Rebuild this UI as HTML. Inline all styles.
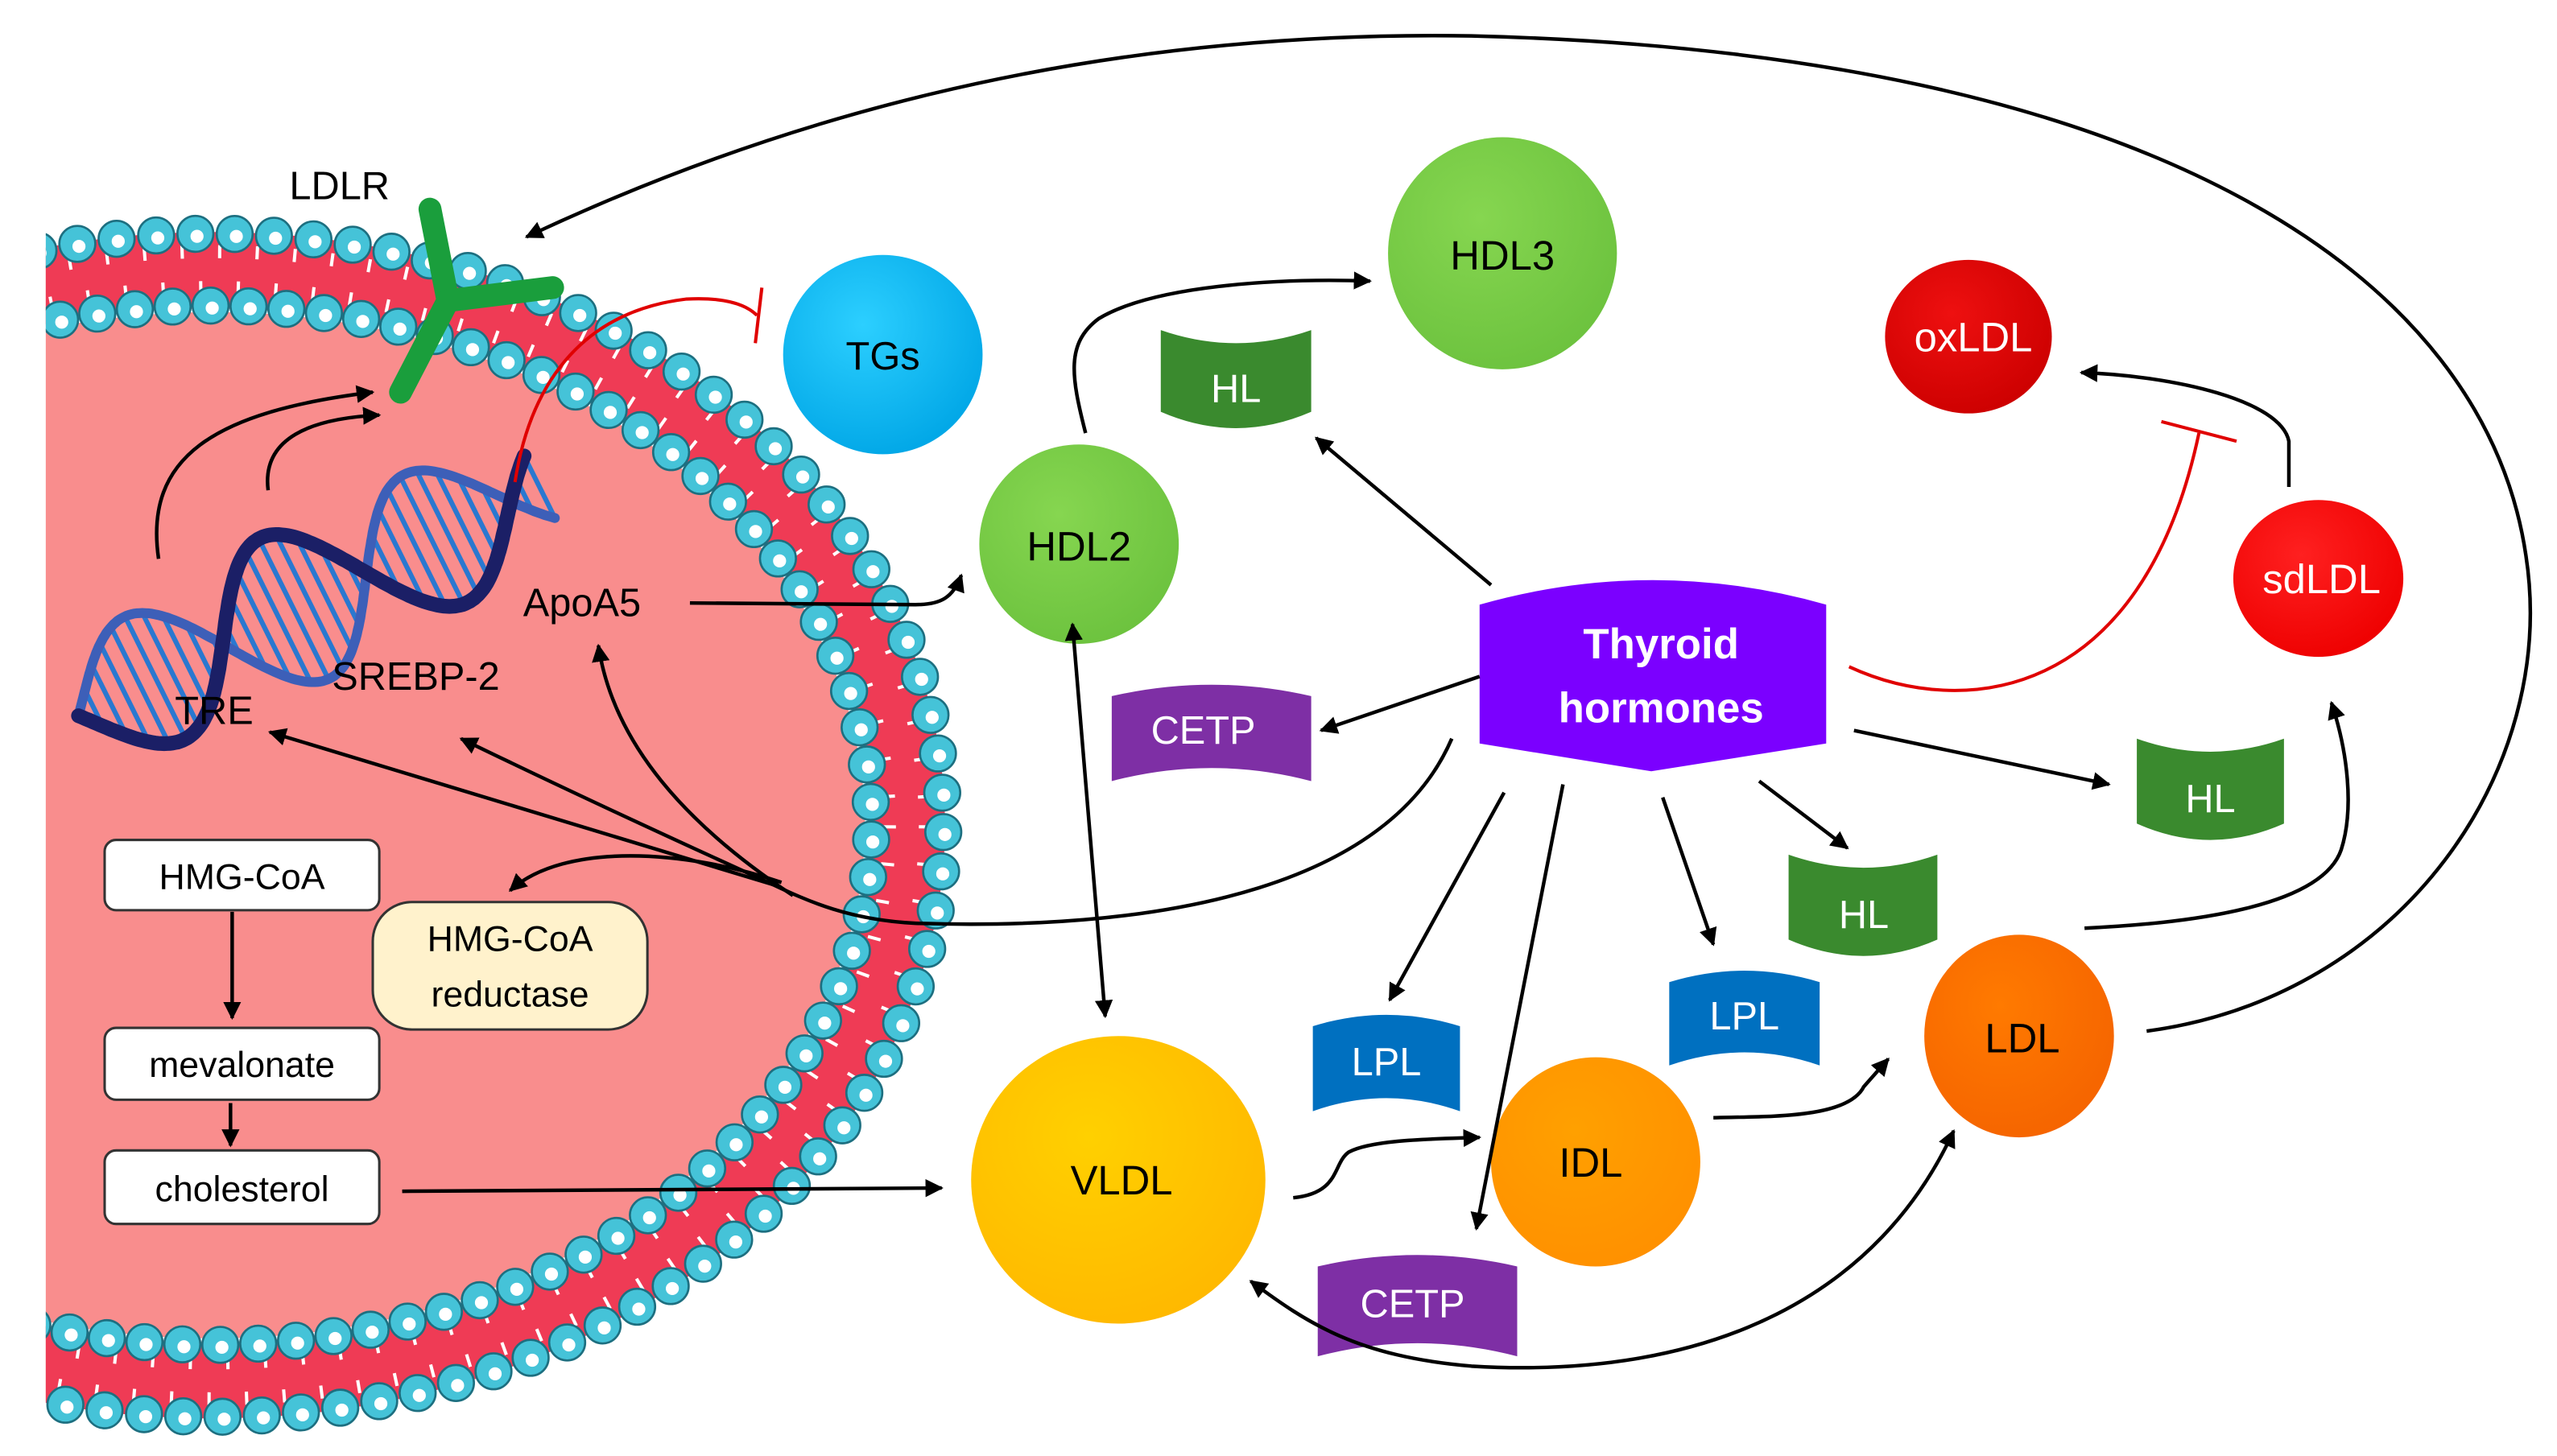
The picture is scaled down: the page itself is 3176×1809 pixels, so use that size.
<!DOCTYPE html>
<html><head><meta charset="utf-8"><style>
html,body{margin:0;padding:0;background:#fff;}
svg{display:block;}
text{font-family:"Liberation Sans",sans-serif;}
</style></head><body>
<svg id="s" width="3176" height="1809" viewBox="0 0 1564 891" preserveAspectRatio="none" xmlns="http://www.w3.org/2000/svg">
<defs>
<marker id="ah" viewBox="0 0 10 10" refX="9" refY="5" markerWidth="5" markerHeight="5" orient="auto-start-reverse"><path d="M0,0 L10,5 L0,10 z" fill="#000"/></marker>
<radialGradient id="gc" cx="0.4" cy="0.35" r="0.7"><stop offset="0" stop-color="#2ccfff"/><stop offset="1" stop-color="#00a6e6"/></radialGradient>
<radialGradient id="gg" cx="0.4" cy="0.35" r="0.7"><stop offset="0" stop-color="#86d650"/><stop offset="1" stop-color="#6cc23e"/></radialGradient>
<radialGradient id="gr1" cx="0.4" cy="0.35" r="0.7"><stop offset="0" stop-color="#ee1010"/><stop offset="1" stop-color="#cc0000"/></radialGradient>
<radialGradient id="gr2" cx="0.4" cy="0.35" r="0.7"><stop offset="0" stop-color="#ff2020"/><stop offset="1" stop-color="#ee0000"/></radialGradient>
<radialGradient id="gy" cx="0.4" cy="0.35" r="0.7"><stop offset="0" stop-color="#ffd000"/><stop offset="1" stop-color="#ffb800"/></radialGradient>
<radialGradient id="go" cx="0.4" cy="0.35" r="0.7"><stop offset="0" stop-color="#ffa000"/><stop offset="1" stop-color="#ff9000"/></radialGradient>
<radialGradient id="go2" cx="0.4" cy="0.35" r="0.7"><stop offset="0" stop-color="#ff7a00"/><stop offset="1" stop-color="#f56400"/></radialGradient>
<clipPath id="cl"><rect x="28" y="0" width="1600" height="891"/></clipPath>
</defs>

<g clip-path="url(#cl)" id="cell">
  <ellipse cx="130" cy="505" rx="447" ry="362" fill="#f98d8d"/>
  <ellipse cx="130" cy="505" rx="425" ry="340" fill="none" stroke="#ef3b55" stroke-width="46"/>
  <ellipse cx="130" cy="505" rx="436" ry="351" fill="none" stroke="#fff" stroke-width="8" stroke-dasharray="2 21"/>
  <ellipse cx="130" cy="505" rx="414" ry="329" fill="none" stroke="#fff" stroke-width="8" stroke-dasharray="2 21"/>
  <ellipse cx="130" cy="505" rx="400" ry="315" fill="none" stroke="#fff" stroke-width="2"/>
  <g id="beads"></g>
</g>

<g id="dna"></g>

<g stroke="#1a9e3c" stroke-width="14" stroke-linecap="round" fill="none">
  <path d="M245,240 L274,184 L263,128"/>
  <path d="M274,184 L338,176"/>
</g>
<text x="177" y="122" font-size="24">LDLR</text>

<rect x="64" y="514" width="168" height="43" rx="7" fill="#fff" stroke="#333" stroke-width="1.5"/>
<text x="148" y="544" font-size="22" text-anchor="middle">HMG-CoA</text>
<rect x="64" y="629" width="168" height="44" rx="7" fill="#fff" stroke="#333" stroke-width="1.5"/>
<text x="148" y="659" font-size="22" text-anchor="middle">mevalonate</text>
<rect x="64" y="704" width="168" height="45" rx="7" fill="#fff" stroke="#333" stroke-width="1.5"/>
<text x="148" y="735" font-size="22" text-anchor="middle">cholesterol</text>
<rect x="228" y="552" width="168" height="78" rx="24" fill="#fff2cc" stroke="#333" stroke-width="1.5"/>
<text x="312" y="582" font-size="22" text-anchor="middle">HMG-CoA</text>
<text x="312" y="616" font-size="22" text-anchor="middle">reductase</text>

<text x="107" y="443" font-size="24">TRE</text>
<text x="203" y="422" font-size="24">SREBP-2</text>
<text x="320" y="377" font-size="24">ApoA5</text>

<ellipse cx="540" cy="217" rx="61" ry="61" fill="url(#gc)"/>
<text x="540" y="226" font-size="24" text-anchor="middle">TGs</text>
<ellipse cx="919" cy="155" rx="70" ry="71" fill="url(#gg)"/>
<text x="919" y="165" font-size="25" text-anchor="middle">HDL3</text>
<ellipse cx="660" cy="333" rx="61" ry="61" fill="url(#gg)"/>
<text x="660" y="343" font-size="25" text-anchor="middle">HDL2</text>
<ellipse cx="1204" cy="206" rx="51" ry="47" fill="url(#gr1)"/>
<text x="1207" y="215" font-size="25" fill="#fff" text-anchor="middle">oxLDL</text>
<ellipse cx="1418" cy="354" rx="52" ry="48" fill="url(#gr2)"/>
<text x="1420" y="363" font-size="25" fill="#fff" text-anchor="middle">sdLDL</text>
<ellipse cx="684" cy="722" rx="90" ry="88" fill="url(#gy)"/>
<text x="686" y="731" font-size="25" text-anchor="middle">VLDL</text>
<ellipse cx="976" cy="711" rx="64" ry="64" fill="url(#go)"/>
<text x="973" y="720" font-size="25" text-anchor="middle">IDL</text>
<ellipse cx="1235" cy="634" rx="58" ry="62" fill="url(#go2)"/>
<text x="1237" y="644" font-size="25" text-anchor="middle">LDL</text>

<path d="M905,370 Q1011,340 1117,370 L1117,455 L1010,472 L905,455 Z" fill="#7b00ff"/>
<text x="1016" y="403" font-size="26" font-weight="bold" fill="#fff" text-anchor="middle">Thyroid</text>
<text x="1016" y="442" font-size="26" font-weight="bold" fill="#fff" text-anchor="middle">hormones</text>

<g fill="#3a8a2e">
<path d="M710,202 Q756,218 802,202 L802,252 Q756,272 710,252 Z"/>
<path d="M1307,452 Q1352,468 1397,452 L1397,504 Q1352,524 1307,504 Z"/>
<path d="M1094,523 Q1140,539 1185,523 L1185,575 Q1140,595 1094,575 Z"/>
</g>
<g fill="#fff" font-size="24" text-anchor="middle">
<text x="756" y="246">HL</text><text x="1352" y="497">HL</text><text x="1140" y="568">HL</text>
</g>
<path d="M803,628 Q848,614 893,628 L893,680 Q848,664 803,680 Z" fill="#0070c0"/>
<path d="M1021,601 Q1067,587 1113,601 L1113,652 Q1067,636 1021,652 Z" fill="#0070c0"/>
<path d="M680,426 Q741,412 802,426 L802,478 Q741,462 680,478 Z" fill="#7e2fa5"/>
<path d="M806,775 Q867,761 928,775 L928,830 Q867,814 806,830 Z" fill="#7e2fa5"/>
<g fill="#fff" font-size="24" text-anchor="middle">
<text x="848" y="658">LPL</text><text x="1067" y="630">LPL</text>
<text x="736" y="455">CETP</text><text x="864" y="806">CETP</text>
</g>

<g fill="none" stroke="#000" stroke-width="2.2">
<path d="M1313,631 C1470,610 1565,470 1545,340 C1520,170 1320,32 900,22 C650,18 460,80 322,145" marker-end="url(#ah)"/>
<path d="M97,342 C88,280 130,252 228,240" marker-end="url(#ah)"/>
<path d="M164,300 C160,268 190,256 232,254" marker-end="url(#ah)"/>
<path d="M422,369 L560,370 C575,370 583,366 588,352" marker-end="url(#ah)"/>
<path d="M664,265 C655,230 652,210 672,195 C705,175 780,170 838,172" marker-end="url(#ah)"/>
<path d="M912,358 L805,268" marker-end="url(#ah)"/>
<path d="M905,414 L808,447" marker-end="url(#ah)"/>
<path d="M888,452 C850,540 720,570 560,565 C520,563 495,552 470,540"/>
<path d="M475,542 L165,448" marker-end="url(#ah)"/>
<path d="M470,540 Q360,490 282,452" marker-end="url(#ah)"/>
<path d="M485,548 C420,505 375,455 366,395" marker-end="url(#ah)"/>
<path d="M478,540 C420,520 345,515 312,545" marker-end="url(#ah)"/>
<path d="M142,558 L142,623" marker-end="url(#ah)"/>
<path d="M141,675 L141,701" marker-end="url(#ah)"/>
<path d="M920,485 L850,612" marker-end="url(#ah)"/>
<path d="M956,480 L903,752" marker-end="url(#ah)"/>
<path d="M1017,488 L1048,578" marker-end="url(#ah)"/>
<path d="M1076,478 L1130,519" marker-end="url(#ah)"/>
<path d="M1134,447 L1290,480" marker-end="url(#ah)"/>
<path d="M1400,298 L1400,270 C1395,245 1330,230 1273,228" marker-end="url(#ah)"/>
<path d="M1275,568 C1340,565 1420,555 1432,520 C1440,495 1436,460 1426,430" marker-end="url(#ah)"/>
<path d="M656,382 L676,622" marker-start="url(#ah)" marker-end="url(#ah)"/>
<path d="M246,729 L576,727" marker-end="url(#ah)"/>
<path d="M791,733 C820,730 815,712 825,705 C840,697 880,697 905,696" marker-end="url(#ah)"/>
<path d="M1048,684 C1080,683 1130,685 1140,665 L1155,648" marker-end="url(#ah)"/>
<path d="M765,784 C800,810 830,830 900,836 C1050,845 1150,790 1195,692" marker-start="url(#ah)" marker-end="url(#ah)"/>
</g>
<g fill="none" stroke="#e00000" stroke-width="2">
<path d="M315,295 C325,230 360,190 420,183 C440,182 455,185 463,193"/>
<path d="M466,176 L462,210"/>
<path d="M1131,408 C1200,440 1310,430 1345,265"/>
<path d="M1322,258 L1368,270"/>
</g>
</svg>
<script>
(function(){
var NS="http://www.w3.org/2000/svg";
var g=document.getElementById("beads");
function ring(rx,ry,step){
  var cx=130,cy=505,pts=[],N=6000,acc=0,px=null,py=null;
  for(var i=0;i<=N;i++){
    var t=-Math.PI/2-0.35+(Math.PI+0.7)*i/N;
    var x=cx+rx*Math.cos(t), y=cy+ry*Math.sin(t);
    if(px!==null){acc+=Math.hypot(x-px,y-py);}
    px=x;py=y;
    if(i==0||acc>=step){acc=0;pts.push([x,y]);}
  }
  pts.forEach(function(p){
    var c=document.createElementNS(NS,"circle");
    c.setAttribute("cx",p[0]);c.setAttribute("cy",p[1]);c.setAttribute("r",11);
    c.setAttribute("fill","#45c3d8");c.setAttribute("stroke","#1d6f80");c.setAttribute("stroke-width","1.3");
    g.appendChild(c);
    var h=document.createElementNS(NS,"circle");
    h.setAttribute("cx",p[0]+1);h.setAttribute("cy",p[1]+1.5);h.setAttribute("r",4);
    h.setAttribute("fill","#fff");g.appendChild(h);
  });
}
ring(447,362,24);ring(403,318,23);
var d=document.getElementById("dna");
var A=[48,438],B=[330,298];
var dx=B[0]-A[0],dy=B[1]-A[1],L=Math.hypot(dx,dy),nx=-dy/L,ny=dx/L;
function P(s,ph){var amp=48*(0.75+0.25*Math.sin(s*Math.PI));var o=amp*Math.sin(s*Math.PI*2*1.6+ph);return [A[0]+dx*s+nx*o,A[1]+dy*s+ny*o];}
for(var k=0;k<=30;k++){var s=k/30;var p1=P(s,0),p2=P(s,Math.PI);
  var l=document.createElementNS(NS,"line");l.setAttribute("x1",p1[0]);l.setAttribute("y1",p1[1]);l.setAttribute("x2",p2[0]);l.setAttribute("y2",p2[1]);
  l.setAttribute("stroke","#2a78d0");l.setAttribute("stroke-width","3");d.appendChild(l);}
[Math.PI,0].forEach(function(ph,j){var s0="";for(var k=0;k<=200;k++){var p=P(k/200,ph);s0+=(k?"L":"M")+p[0].toFixed(1)+","+p[1].toFixed(1);}
  var pa=document.createElementNS(NS,"path");pa.setAttribute("d",s0);pa.setAttribute("fill","none");
  pa.setAttribute("stroke",j?"#1b1f66":"#3d5fb8");pa.setAttribute("stroke-width",j?"9":"6");pa.setAttribute("stroke-linecap","round");d.appendChild(pa);});
})();
</script>
</body></html>
